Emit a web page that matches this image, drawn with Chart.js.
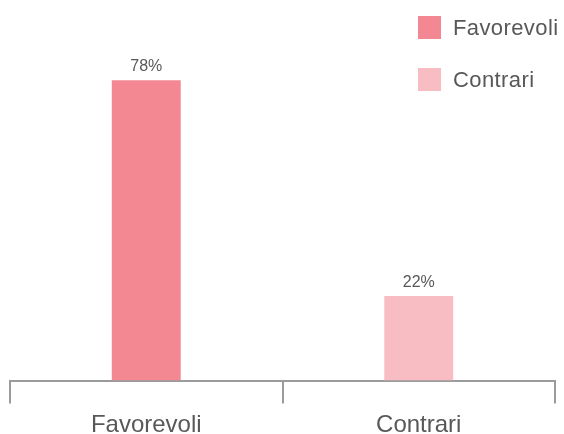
<!DOCTYPE html>
<html>
<head>
<meta charset="utf-8">
<script src="https://cdn.jsdelivr.net/npm/chart.js@4/dist/chart.umd.min.js"></script>
<style>
  body { margin: 0; background: #fff; overflow: hidden; }
  #wrap { position: relative; width: 564px; height: 434px; }
  #legend { position: absolute; left: 418px; top: 16px; font-family: "Liberation Sans", Arial, sans-serif; font-size: 22px; letter-spacing: 0.4px; color: #58585a; }
  .item { display: flex; align-items: center; height: 23px; margin-bottom: 29px; }
  .box { width: 23px; height: 23px; margin-right: 12px; }
</style>
</head>
<body>
<div id="wrap">
  <canvas id="myChart"></canvas>
  <div id="legend"></div>
</div>
<script>
const categories = ['Favorevoli', 'Contrari'];
const values = [78, 22];
const colors = ['#F38792', '#F8BDC2'];

const legend = document.getElementById('legend');
categories.forEach((c, i) => {
    const item = document.createElement('div');
    item.className = 'item';
    item.innerHTML = '<span class="box" style="background:' + colors[i] + '"></span><span>' + c + '</span>';
    legend.appendChild(item);
});

// etichette sopra le barre
const valueLabels = {
    id: 'valueLabels',
    afterDatasetsDraw(chart) {
        const ctx = chart.ctx;
        const meta = chart.getDatasetMeta(0);
        ctx.save();
        ctx.font = '16px "Liberation Sans", Arial, sans-serif';
        ctx.fillStyle = '#58585a';
        ctx.textAlign = 'center';
        ctx.textBaseline = 'alphabetic';
        meta.data.forEach((bar, i) => {
            ctx.fillText(values[i] + '%', bar.x, bar.y - 9);
        });
        ctx.restore();
    }
};

const ctx = document.getElementById('myChart');

new Chart(ctx, {
    type: 'bar',
    data: {
        labels: categories,
        datasets: [{
            data: values,
            backgroundColor: colors,
            borderWidth: 0,
            barPercentage: 0.253,
            categoryPercentage: 1,
        }]
    },
    options: {
        responsive: true,
        maintainAspectRatio: false,
        animation: false,
        layout: {
            padding: { left: 10, right: 9, top: 34, bottom: -14 }
        },
        plugins: {
            legend: { display: false },
            tooltip: { enabled: false }
        },
        scales: {
            x: {
                grid: {
                    drawOnChartArea: false,
                    color: '#9b9b9b',
                    lineWidth: 2,
                    tickLength: 23
                },
                border: { color: '#9b9b9b', width: 2 },
                ticks: {
                    color: '#58585a',
                    padding: 12,
                    font: { size: 24, family: '"Liberation Sans", Arial, sans-serif', lineHeight: 0.85 }
                }
            },
            y: {
                display: false,
                min: 0,
                max: 90
            }
        }
    },
    plugins: [valueLabels]
});
</script>
</body>
</html>
